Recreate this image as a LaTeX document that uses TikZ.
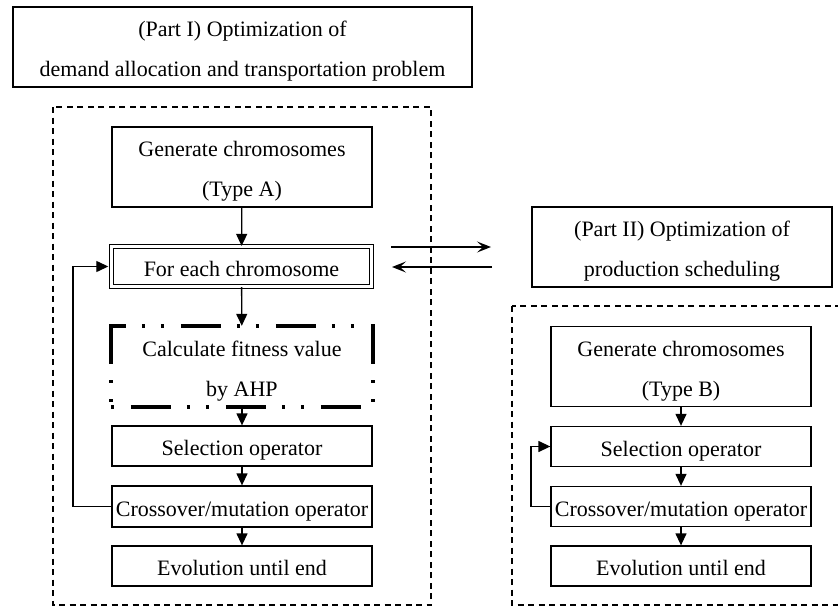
\documentclass[tikz,border=0pt]{standalone}
\usepackage{fontspec}
\setmainfont{Liberation Serif}
\usetikzlibrary{arrows.meta}
\newcommand{\tx}[1]{\raisebox{-1.5pt}[\height][\depth]{\begin{tabular}{@{}c@{}}#1\end{tabular}}}
\begin{document}
\begin{tikzpicture}[x=1pt,y=-1pt,
  plain/.style={inner sep=0pt, font=\fontsize{22}{40}\selectfont},
  box/.style={plain, draw, line width=1.3pt},
  dbox/.style={box, double, double distance=2.6pt, line width=1.2pt},
  fitline/.style={line width=3.6pt,
    dash pattern=on 40pt off 16pt on 3pt off 16pt on 3pt off 17pt},
  frame/.style={draw, line width=1.1pt, dash pattern=on 6pt off 4.5pt},
  flow/.style={line width=1.3pt, -{Triangle[length=12pt,width=11pt]}},
  link/.style={line width=1.3pt, -{Stealth[length=14pt,width=11pt,inset=6pt]}}]
\useasboundingbox (0,0) rectangle (838,608);
\clip (0,0) rectangle (838,608);

% frames
\draw[frame] (53,107) rectangle (431,605);
\draw[frame] (512,306) rectangle (850,605);

% Part I
\node[box, minimum width=459pt, minimum height=80pt] (title1) at (242.5,47)
  {\tx{(Part I) Optimization of\\demand allocation and transportation problem}};
\node[box, minimum width=260pt, minimum height=80pt] (genA) at (242,167)
  {\tx{Generate chromosomes\\(Type A)}};
\node[dbox, minimum width=260pt, minimum height=40pt] (each) at (241.5,266.5)
  {\tx{For each chromosome}};
\node[plain, minimum width=262pt, minimum height=81pt] (fit) at (242,366.5)
  {\tx{Calculate fitness value\\by AHP}};
\draw[fitline, dash phase=0pt] ([yshift=1.8pt]fit.north west) -- (fit.south west);
\draw[fitline, dash phase=0pt] ([yshift=1.8pt]fit.north east) -- (fit.south east);
\draw[fitline, dash phase=25pt] (fit.north west) -- (fit.north east);
\draw[fitline, dash phase=75pt] (fit.south west) -- (fit.south east);
\node[box, minimum width=260pt, minimum height=40pt] (sel) at (242,446)
  {\tx{Selection operator}};
\node[box, minimum width=260pt, minimum height=41pt] (cross) at (242,506.5)
  {\tx{Crossover/mutation operator}};
\node[box, minimum width=260pt, minimum height=40pt] (evo) at (242,566)
  {\tx{Evolution until end}};

\draw[flow] (genA) -- (each);
\draw[flow] (each) -- (fit);
\draw[flow] (fit.south) -- (sel);
\draw[flow] (sel) -- (cross);
\draw[flow] (cross) -- (evo);
\coordinate (lA) at (73,0);
\draw[flow, shorten >=2.6pt] (cross.west) -- (cross.west -| lA) -- (each.west -| lA) -- (each.west);

% Part II
\node[box, minimum width=300pt, minimum height=80pt] (title2) at (682,247)
  {\tx{(Part II) Optimization of\\production scheduling}};
\node[box, minimum width=260pt, minimum height=79pt] (genB) at (681,366.5)
  {\tx{Generate chromosomes\\(Type B)}};
\node[box, minimum width=260pt, minimum height=39pt] (selB) at (681,446.5)
  {\tx{Selection operator}};
\node[box, minimum width=260pt, minimum height=39pt] (crossB) at (681,506.5)
  {\tx{Crossover/mutation operator}};
\node[box, minimum width=260pt, minimum height=40pt] (evoB) at (681,566)
  {\tx{Evolution until end}};

\draw[flow] (genB) -- (selB);
\draw[flow] (selB) -- (crossB);
\draw[flow] (crossB) -- (evoB);
\coordinate (lB) at (531,0);
\draw[flow] (crossB.west) -- (crossB.west -| lB) -- (selB.west -| lB) -- (selB.west);

% links between parts
\coordinate (r1) at (391,247);
\coordinate (r2) at (491,247);
\coordinate (l1) at (492,267);
\coordinate (l2) at (392,267);
\draw[link] (r1) -- (r2);
\draw[link] (l1) -- (l2);
\end{tikzpicture}
\end{document}
